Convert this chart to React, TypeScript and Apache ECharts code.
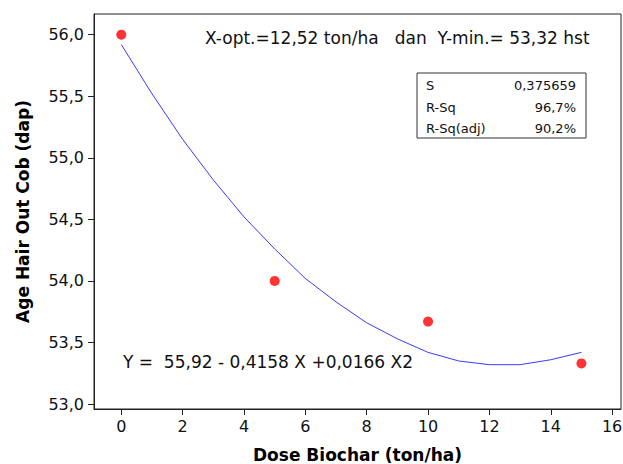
import React, { useEffect, useRef } from "react";
import * as echarts from "echarts";

const observedX = [0, 5, 10, 15];
const observedY = [56.0, 54.0, 53.67, 53.33];

const fitX = [0, 1, 2, 3, 4, 5, 6, 7, 8, 9, 10, 11, 12, 13, 14, 15];
const fitY = [55.92, 55.52, 55.15, 54.82, 54.52, 54.26, 54.02, 53.83, 53.66, 53.53, 53.42, 53.35, 53.32, 53.32, 53.36, 53.42];

const xTicks = [0, 2, 4, 6, 8, 10, 12, 14, 16];
const yTicks = [53.0, 53.5, 54.0, 54.5, 55.0, 55.5, 56.0];

const statLabels = ["S", "R-Sq", "R-Sq(adj)"];
const statValues = ["0,375659", "96,7%", "90,2%"];

const headerText = "X-opt.=12,52 ton/ha   dan  Y-min.= 53,32 hst";
const equationText = "Y =  55,92 - 0,4158 X +0,0166 X2";

const FONT = "DejaVu Sans";

export default function App() {
  const ref = useRef<HTMLDivElement>(null);
  useEffect(() => {
    document.body.style.margin = "0";
    const chart = echarts.init(ref.current!, null, { renderer: "svg" });
    const statTexts: any[] = [];
    statLabels.forEach((l, i) => {
      statTexts.push({
        type: "text",
        x: 426,
        y: 85.5 + i * 21.5,
        style: { text: l, font: `13px ${FONT}`, fill: "#111", verticalAlign: "middle" },
      });
      statTexts.push({
        type: "text",
        x: 576,
        y: 85.5 + i * 21.5,
        style: { text: statValues[i], font: `13px ${FONT}`, fill: "#111", align: "right", verticalAlign: "middle" },
      });
    });
    chart.setOption({
      animation: false,
      backgroundColor: "#fff",
      grid: {
        left: 94,
        top: 14,
        width: 527,
        height: 395,
        show: true,
        borderColor: "#222",
        borderWidth: 1,
        containLabel: false,
        outerBoundsMode: "none",
      },
      xAxis: {
        type: "value",
        min: -0.89,
        max: 16.29,
        name: "Dose Biochar (ton/ha)",
        nameLocation: "middle",
        nameGap: 37,
        nameTextStyle: { fontFamily: FONT, fontWeight: "bold", fontSize: 17, color: "#000" },
        axisLine: { show: true, onZero: false, lineStyle: { color: "#222" } },
        axisTick: { show: true, length: 6, customValues: xTicks, lineStyle: { color: "#222" } },
        axisLabel: {
          customValues: xTicks,
          fontFamily: FONT,
          fontSize: 16,
          color: "#111",
          margin: 9,
        },
        splitLine: { show: false },
      },
      yAxis: {
        type: "value",
        min: 52.96,
        max: 56.168,
        name: "Age Hair Out Cob (dap)",
        nameLocation: "middle",
        nameGap: 63,
        nameTextStyle: { fontFamily: FONT, fontWeight: "bold", fontSize: 17, color: "#000" },
        axisLine: { show: true, onZero: false, lineStyle: { color: "#222" } },
        axisTick: { show: true, length: 6, customValues: yTicks, lineStyle: { color: "#222" } },
        axisLabel: {
          customValues: yTicks,
          fontFamily: FONT,
          fontSize: 16,
          color: "#111",
          margin: 10,
          formatter: (v: number) => v.toFixed(1).replace(".", ","),
        },
        splitLine: { show: false },
      },
      series: [
        {
          type: "line",
          data: fitX.map((x, i) => [x, fitY[i]]),
          showSymbol: false,
          lineStyle: { color: "#3a3aff", width: 1 },
          z: 2,
        },
        {
          type: "scatter",
          data: observedX.map((x, i) => [x, observedY[i]]),
          symbol: "circle",
          symbolSize: 10,
          itemStyle: { color: "#ff0000" },
          z: 3,
        },
      ],
      graphic: [
        {
          type: "text",
          x: 205,
          y: 38,
          style: { text: headerText, font: `17px ${FONT}`, fill: "#111", verticalAlign: "middle" },
        },
        {
          type: "text",
          x: 123,
          y: 362,
          style: { text: equationText, font: `17px ${FONT}`, fill: "#111", verticalAlign: "middle" },
        },
        {
          type: "rect",
          shape: { x: 417, y: 73, width: 169, height: 65 },
          style: { fill: "#fff", stroke: "#333", lineWidth: 1 },
        },
        ...statTexts,
      ],
    });
    return () => chart.dispose();
  }, []);
  return <div ref={ref} style={{ width: 623, height: 464 }} />;
}
